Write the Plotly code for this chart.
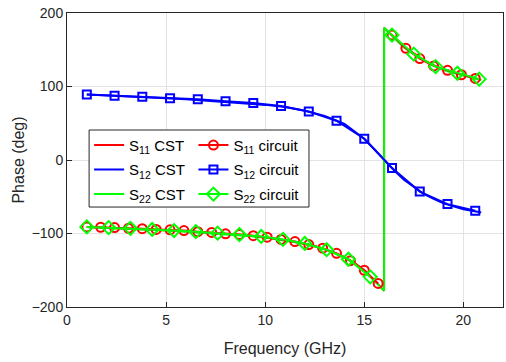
import plotly.graph_objects as go

# CST (dense) curves
f_s11_cst = [1.0, 2.0, 3.0, 4.0, 5.0, 6.0, 7.0, 8.0, 9.0, 10.0, 11.0, 12.0, 12.5, 13.0, 13.5, 14.0, 14.5, 15.0, 15.5, 15.8, 16.0,
             16.0, 16.3, 16.6, 17.0, 17.5, 18.0, 18.5, 19.0, 19.5, 20.0, 20.5, 20.9]
p_s11_cst = [-91, -92, -93, -94, -95.5, -97, -98.5, -100.5, -102.5, -105, -109, -114, -117, -121, -126, -132, -140, -150, -163, -172, -178,
             180, 172, 164, 154, 145, 136, 129, 123, 119, 115, 112, 109]
f_s22_cst = f_s11_cst
p_s22_cst = [-91, -92, -93, -94.5, -96, -97.5, -99, -101, -103, -105.5, -109.5, -114, -117.5, -121.5, -127, -133, -141, -151, -164, -173, -178,
             180, 172, 163, 153, 144, 135.5, 128.5, 122.5, 118.5, 114.5, 111.5, 108.5]
f_s12_cst = [1.0, 2.0, 3.0, 4.0, 5.0, 6.0, 7.0, 8.0, 9.0, 10.0, 11.0, 12.0, 13.0, 14.0, 15.0, 15.5, 16.0, 16.5, 17.0, 17.5, 18.0, 18.5,
             19.0, 19.5, 20.0, 20.5, 20.9]
p_s12_cst = [89, 88, 87, 85.5, 84, 82.5, 81, 79.5, 77, 75, 72, 67, 60, 49, 29, 15, 0, -14, -27, -37, -46, -53, -59, -63, -67, -69.5, -71.5]

# Circuit model (markers)
f_s11_cir = [1.0, 1.7, 2.4, 3.1, 3.8, 4.5, 5.2, 5.9, 6.6, 7.3, 8.0, 8.7, 9.4, 10.1, 10.8, 11.5, 12.2, 12.9, 13.6, 14.3, 15.0, 15.7,
             16.4, 17.1, 17.8, 18.5, 19.2, 19.9, 20.6]
p_s11_cir = [-91, -91.5, -92, -93, -93.5, -94.5, -95, -96, -97.5, -98.5, -100.5, -101.5, -103, -105, -108, -111, -115, -120, -127, -137, -150, -168,
             170, 152, 138, 128, 122, 116, 111]
f_s12_cir = [1.0, 2.4, 3.8, 5.2, 6.6, 8.0, 9.4, 10.8, 12.2, 13.6, 15.0, 16.4, 17.8, 19.2, 20.6]
p_s12_cir = [89, 87.5, 86, 84, 82.5, 80, 77.5, 73.5, 66, 53.5, 29, -11, -43, -60, -69]
f_s22_cir = [1.0, 2.1, 3.2, 4.3, 5.4, 6.5, 7.6, 8.7, 9.8, 10.9, 12.0, 13.1, 14.2, 15.3, 16.4, 17.5, 18.6, 19.7, 20.8]
p_s22_cir = [-91, -92, -93, -94.5, -96, -97.5, -99.5, -101.5, -104, -108, -113.5, -122, -135, -159, 170, 144, 127, 118, 110]

x_ticks = [0, 5, 10, 15, 20]
y_ticks = [-200, -100, 0, 100, 200]

RED, BLUE, GREEN = "#ff0000", "#0000ff", "#00ff00"
FONT = "Liberation Sans, Arial, sans-serif"


def break_wraps(xs, ys):
    """Insert a gap where the phase wraps (so no slanted connector is drawn)."""
    ox, oy = [xs[0]], [ys[0]]
    for i in range(1, len(xs)):
        if abs(ys[i] - ys[i - 1]) > 180:
            ox.append(None)
            oy.append(None)
        ox.append(xs[i])
        oy.append(ys[i])
    return ox, oy


fig = go.Figure()
fig.add_trace(go.Scatter(x=f_s11_cst, y=p_s11_cst, mode="lines", line=dict(color=RED, width=2),
                         name="S<sub>11</sub> CST", legend="legend", legendgroup="a"))
fig.add_trace(go.Scatter(x=f_s12_cst, y=p_s12_cst, mode="lines", line=dict(color=BLUE, width=2),
                         name="S<sub>12</sub> CST", legend="legend", legendgroup="b"))
fig.add_trace(go.Scatter(x=f_s22_cst, y=p_s22_cst, mode="lines", line=dict(color=GREEN, width=2),
                         name="S<sub>22</sub> CST", legend="legend", legendgroup="c"))
x, y = break_wraps(f_s11_cir, p_s11_cir)
fig.add_trace(go.Scatter(x=x, y=y, mode="lines+markers", line=dict(color=RED, width=2), connectgaps=False,
                         marker=dict(symbol="circle-open", size=9, color=RED, line=dict(width=2)),
                         name="S<sub>11</sub> circuit", legend="legend2", legendgroup="d"))
x, y = break_wraps(f_s12_cir, p_s12_cir)
fig.add_trace(go.Scatter(x=x, y=y, mode="lines+markers", line=dict(color=BLUE, width=2), connectgaps=False,
                         marker=dict(symbol="square-open", size=8, color=BLUE, line=dict(width=2)),
                         name="S<sub>12</sub> circuit", legend="legend2", legendgroup="e"))
x, y = break_wraps(f_s22_cir, p_s22_cir)
fig.add_trace(go.Scatter(x=x, y=y, mode="lines+markers", line=dict(color=GREEN, width=2), connectgaps=False,
                         marker=dict(symbol="diamond-open", size=10, color=GREEN, line=dict(width=2)),
                         name="S<sub>22</sub> circuit", legend="legend2", legendgroup="f"))

axis_common = dict(showline=True, linecolor="#262626", linewidth=1, mirror=True, ticks="inside",
                   ticklen=5, tickcolor="#262626", showgrid=True, gridcolor="#e3e3e3", gridwidth=1,
                   zeroline=False, automargin=False, ticklabeloverflow="allow",
                   tickfont=dict(family=FONT, size=14, color="#262626"))

legend_common = dict(xanchor="left", yanchor="top", bgcolor="rgba(0,0,0,0)",
                     font=dict(family=FONT, size=15, color="black"), tracegroupgap=2, itemwidth=30,
                     traceorder="grouped")

fig.update_layout(
    width=506, height=362,
    margin=dict(l=67, r=3, t=13, b=55),
    paper_bgcolor="white", plot_bgcolor="white",
    font=dict(family=FONT, size=14, color="#262626"),
    xaxis=dict(range=[0, 22], tickvals=x_ticks, title=dict(text="Frequency (GHz)", font=dict(size=16), standoff=16),
               **axis_common),
    yaxis=dict(range=[-200, 200], tickvals=y_ticks, title=dict(text="Phase (deg)", font=dict(size=16), standoff=3),
               **axis_common),
    legend=dict(x=0.0507, y=0.606, **legend_common),
    legend2=dict(x=0.290, y=0.606, **legend_common),
    shapes=[dict(type="rect", xref="paper", yref="paper", x0=0.0507, x1=0.5550, y0=0.340, y1=0.602,
                 line=dict(color="#262626", width=1), fillcolor="white", layer="above")],
    showlegend=True,
)
# remove the page's default 8px body margin so the 506x362 figure fills the window
fig.write_html("out.html", config={"displayModeBar": False},
               post_script="document.body.style.margin='0';document.body.style.overflow='hidden';")
